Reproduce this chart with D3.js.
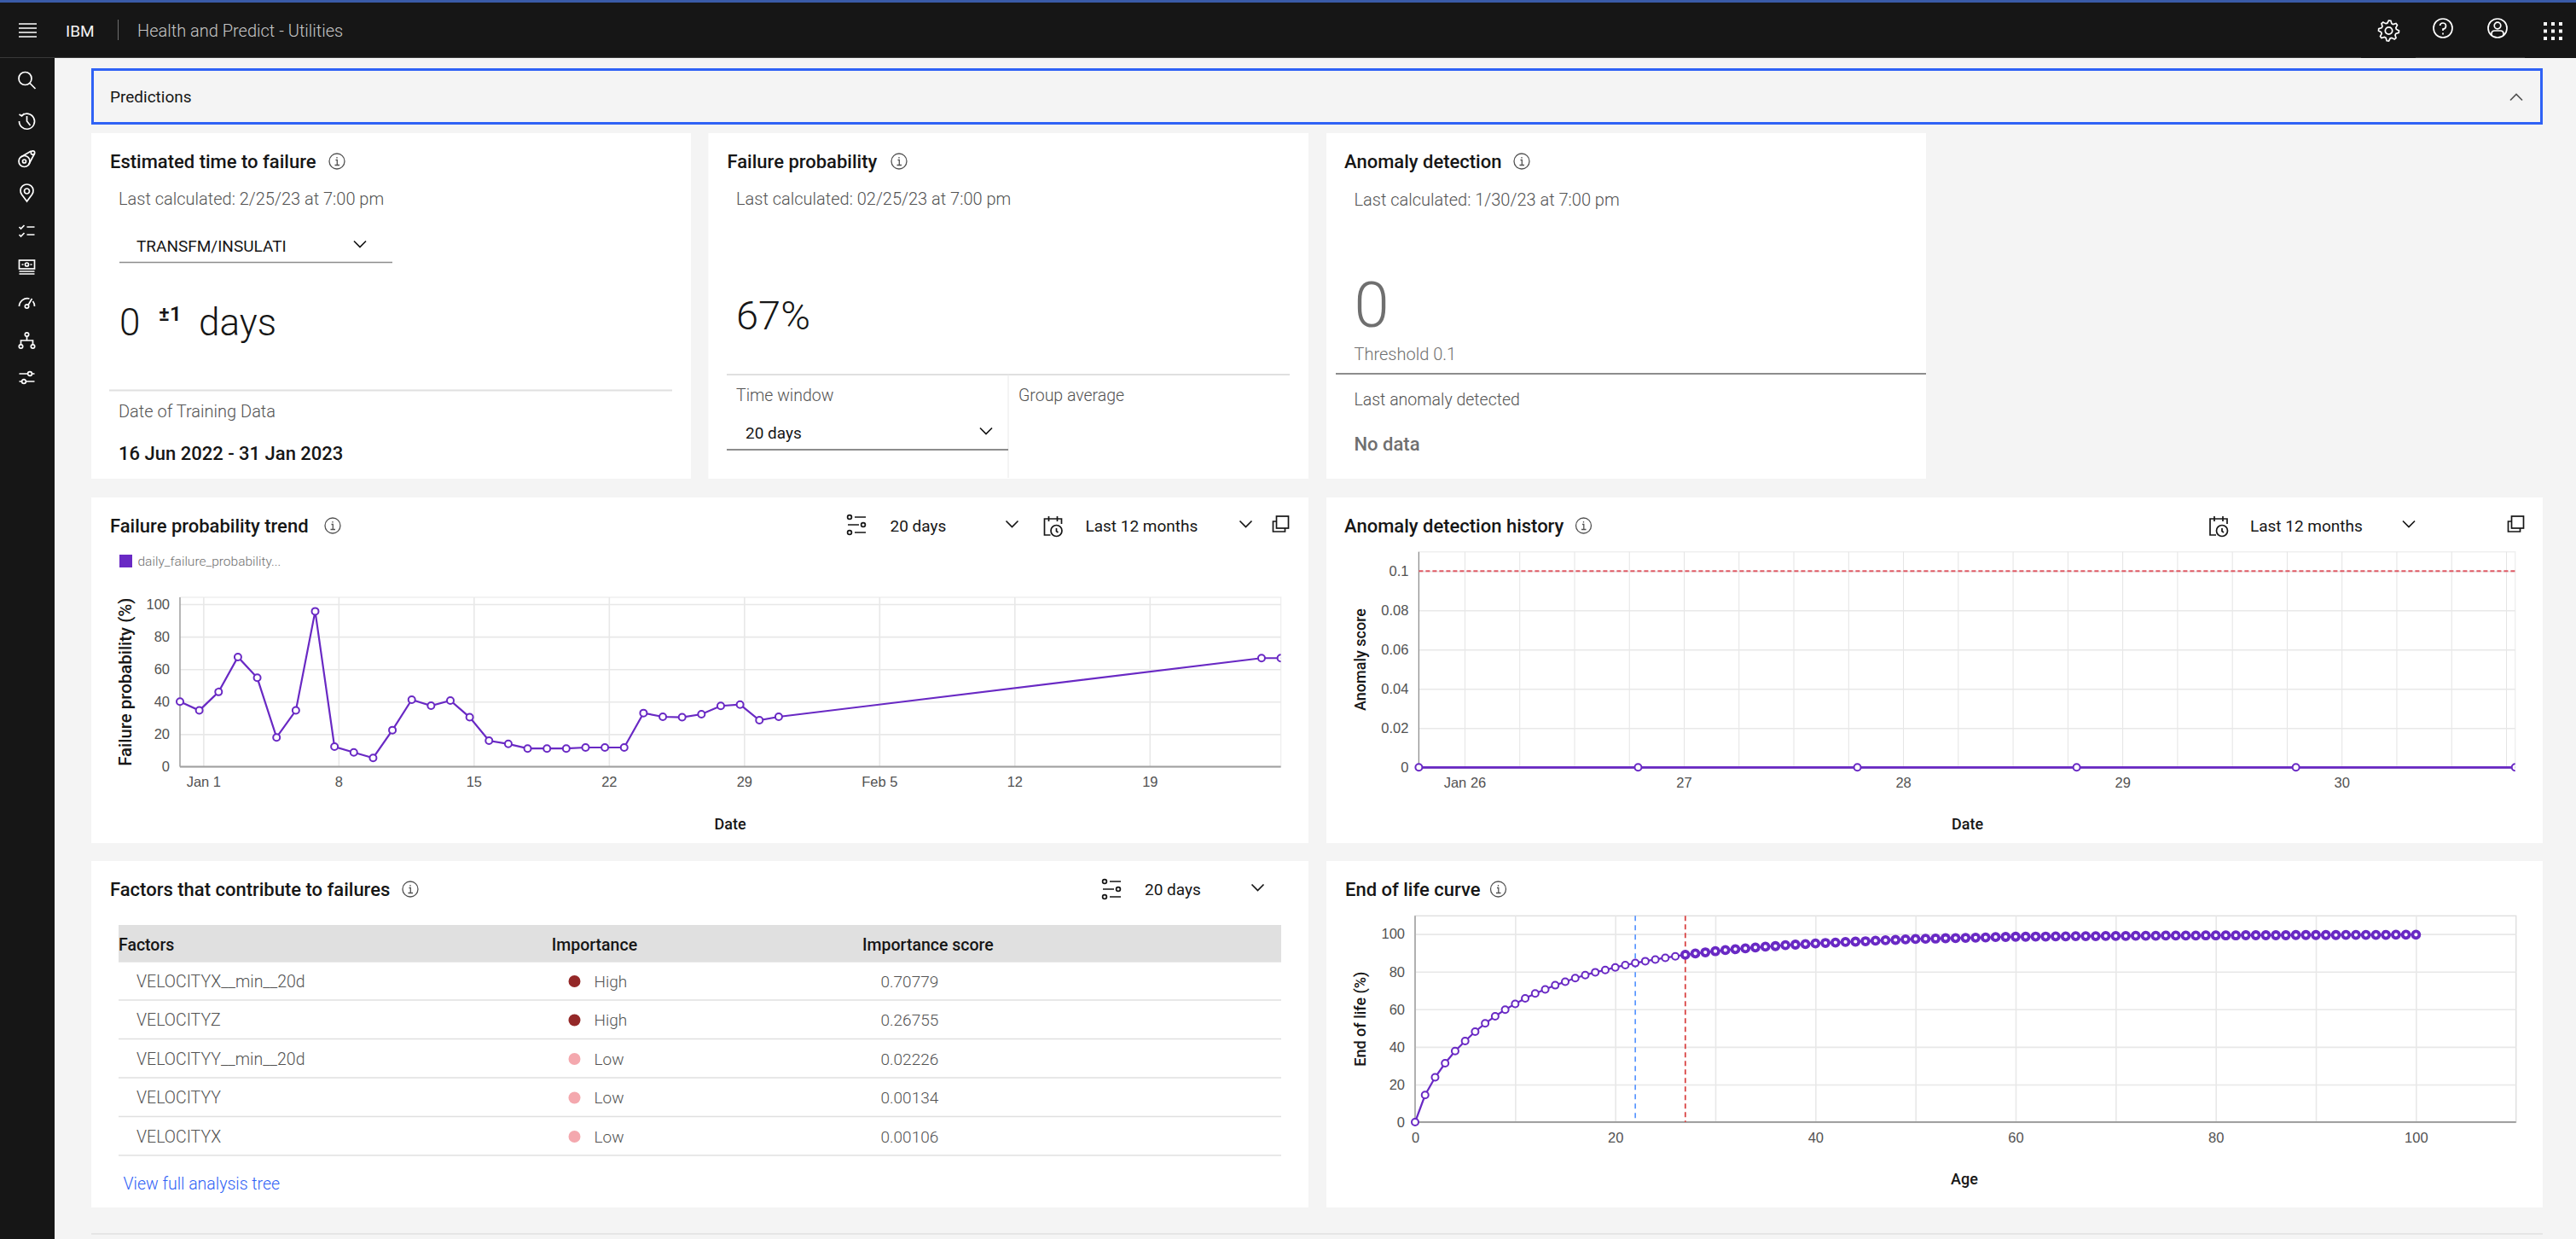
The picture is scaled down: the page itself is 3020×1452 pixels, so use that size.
<!DOCTYPE html>
<html>
<head>
<meta charset="utf-8">
<script src="https://cdn.jsdelivr.net/npm/d3@7"></script>
<style>
  html, body { margin: 0; padding: 0; background: #f4f4f4; }
  svg { display: block; font-family: Roboto, "Noto Sans", sans-serif; }
  .icon { fill: none; stroke: #fff; stroke-width: 1.7; }
  .dark { stroke: #161616; }
  .grid line { stroke: #e8e8e8; stroke-width: 1.6; }
  .grid path { display: none; }
  .grid-thin line { stroke: #e4e4e4; stroke-width: 1; }
  .tick-text text { font-size: 16.5px; font-weight: 300; fill: #525252; }
  .tick-text .domain, .tick-text line { display: none; }
</style>
</head>
<body>
<div id="chart"></div>
<script>
// failure probability trend
const failureDates = [
    "2022-12-30", "2022-12-31", "2023-01-01", "2023-01-02", "2023-01-03", "2023-01-04", "2023-01-05", "2023-01-06",
    "2023-01-07", "2023-01-08", "2023-01-09", "2023-01-10", "2023-01-11", "2023-01-12", "2023-01-13", "2023-01-14",
    "2023-01-15", "2023-01-16", "2023-01-17", "2023-01-18", "2023-01-19", "2023-01-20", "2023-01-21", "2023-01-22",
    "2023-01-23", "2023-01-24", "2023-01-25", "2023-01-26", "2023-01-27", "2023-01-28", "2023-01-29", "2023-01-30",
    "2023-02-24", "2023-02-25"
];
const failureValues = [
    40, 34.6, 46, 67.5, 54.7, 18, 34.6, 95.6,
    12.3, 8.8, 5.4, 22.5, 41.2, 37.5, 40.7, 30.4,
    16, 14, 11.2, 11.2, 11.2, 11.8, 11.8, 11.8,
    33, 30.7, 30.4, 32.3, 37.4, 38.2, 28.6, 30.7,
    66.8, 66.8
];
const failureTickDates = ["2023-01-01", "2023-01-08", "2023-01-15", "2023-01-22", "2023-01-29", "2023-02-05", "2023-02-12", "2023-02-19"];
const failureTickLabels = ["Jan 1", "8", "15", "22", "29", "Feb 5", "12", "19"];
const failureYTicks = [0, 20, 40, 60, 80, 100];

// anomaly detection history
const anomalyDates = ["2023-01-25", "2023-01-26", "2023-01-27", "2023-01-28", "2023-01-29", "2023-01-30"];
const anomalyValues = [0, 0, 0, 0, 0, 0];
const anomalyTickDates = ["2023-01-26", "2023-01-27", "2023-01-28", "2023-01-29", "2023-01-30"];
const anomalyTickLabels = ["Jan 26", "27", "28", "29", "30"];
const anomalyYTicks = [0, 0.02, 0.04, 0.06, 0.08, 0.1];
const anomalyThreshold = 0.1;

// end of life curve, one value for each age 0..100
const lifeValues = [
    0, 14.4, 23.8, 31.3, 37.8, 43.1, 48.1, 52.5, 56.3, 59.8,
    62.9, 65.8, 68.4, 70.6, 72.8, 74.7, 76.6, 78.2, 79.7, 80.9,
    82.3, 83.5, 84.6, 85.6, 86.5, 87.4, 88.2, 89, 89.7, 90.3,
    90.9, 91.5, 92, 92.4, 92.9, 93.3, 93.6, 94.1, 94.4, 94.7,
    95, 95.3, 95.5, 95.8, 96, 96.2, 96.5, 96.7, 96.9, 97.2,
    97.4, 97.5, 97.6, 97.8, 97.9, 98, 98.1, 98.2, 98.4, 98.5,
    98.6, 98.6, 98.7, 98.7, 98.8, 98.8, 98.9, 98.9, 98.9, 99,
    99, 99, 99.1, 99.1, 99.1, 99.2, 99.2, 99.2, 99.2, 99.3,
    99.3, 99.3, 99.3, 99.4, 99.4, 99.4, 99.4, 99.4, 99.5, 99.5,
    99.5, 99.5, 99.5, 99.6, 99.6, 99.6, 99.6, 99.6, 99.7, 99.7,
    99.7
];
const lifeXTicks = [0, 20, 40, 60, 80, 100];
const lifeXGrid = [10, 20, 30, 40, 50, 60, 70, 80, 90, 100];
const lifeYTicks = [0, 20, 40, 60, 80, 100];
const lifeCurrentAge = 27;
const lifeMeanAge = 22;

// factors table
const factorNames = ["VELOCITYX__min__20d", "VELOCITYZ", "VELOCITYY__min__20d", "VELOCITYY", "VELOCITYX"];
const factorLevels = ["High", "High", "Low", "Low", "Low"];
const factorScores = ["0.70779", "0.26755", "0.02226", "0.00134", "0.00106"];

const PURPLE = "#6929c4";
const BLUE = "#2f62f5";
const parseDay = d3.timeParse("%Y-%m-%d");
const atEvening = s => d3.timeHour.offset(parseDay(s), 19);

const svg = d3.select("#chart").append("svg").attr("width", 3020).attr("height", 1452);

function text(parent, x, y, str, size, opts = {}) {
    return parent.append("text")
        .attr("x", x).attr("y", y).attr("dy", "0.35em")
        .attr("font-size", size)
        .attr("font-weight", opts.weight || 400)
        .attr("fill", opts.fill || "#161616")
        .attr("text-anchor", opts.anchor || "start")
        .text(str);
}

function rect(parent, x0, y0, x1, y1, fill) {
    return parent.append("rect").attr("x", x0).attr("y", y0).attr("width", x1 - x0).attr("height", y1 - y0).attr("fill", fill);
}

function hline(parent, x0, x1, y, color, width) {
    return parent.append("line").attr("x1", x0).attr("x2", x1).attr("y1", y).attr("y2", y).attr("stroke", color).attr("stroke-width", width);
}

function vline(parent, x, y0, y1, color, width) {
    return parent.append("line").attr("x1", x).attr("x2", x).attr("y1", y0).attr("y2", y1).attr("stroke", color).attr("stroke-width", width);
}

const gearPath = d3.lineRadial().curve(d3.curveLinearClosed)(
    d3.range(32).map(i => [i * Math.PI / 16, [12, 12, 9, 9][i % 4]])
);

// small line icons, drawn around 0,0
const ICONS = {
    search: g => {
        g.append("circle").attr("cx", -2).attr("cy", -2).attr("r", 7.5);
        g.append("path").attr("d", "M3.5 3.5 L10 10");
    },
    history: g => {
        g.append("path").attr("d", "M-6 -6.5 A9 9 0 1 1 -9 0");
        g.append("path").attr("d", "M-9 -8 L-6 -6 L-3 -9 M0 -6 V0 L4 5");
    },
    belt: g => {
        g.append("circle").attr("cx", -3).attr("cy", 3).attr("r", 6.5);
        g.append("circle").attr("cx", -3).attr("cy", 3).attr("r", 2);
        g.append("circle").attr("cx", 7).attr("cy", -7).attr("r", 2.2);
        g.append("path").attr("d", "M-7 -2 L5 -9 M2 7 L9 -6");
    },
    pin: g => {
        g.append("path").attr("d", "M0 9 L-6 1 A7.5 7.5 0 1 1 6 1 Z");
        g.append("circle").attr("cx", 0).attr("cy", -3).attr("r", 3);
    },
    checks: g => {
        g.append("path").attr("d", "M-9 -5 L-7 -3 L-3 -7 M0 -5 H9 M-9 4 L-7 6 L-3 2 M0 4 H9");
    },
    money: g => {
        g.append("rect").attr("x", -9).attr("y", -8).attr("width", 18).attr("height", 10);
        g.append("circle").attr("cx", 0).attr("cy", -3).attr("r", 2);
        g.append("path").attr("d", "M-6 -3 H-4 M4 -3 H6 M-9 5 H9 M-9 8 H9");
    },
    gauge: g => {
        g.append("path").attr("d", "M-9 4 A9.5 9.5 0 0 1 3 -5 M7 -2 A9.5 9.5 0 0 1 9 4");
        g.append("circle").attr("cx", 0).attr("cy", 4).attr("r", 2.2);
        g.append("path").attr("d", "M1.5 2.5 L6 -5");
    },
    tree: g => {
        g.append("circle").attr("cx", 0).attr("cy", -7).attr("r", 2.2);
        g.append("circle").attr("cx", -7).attr("cy", 7).attr("r", 2.2);
        g.append("circle").attr("cx", 7).attr("cy", 7).attr("r", 2.2);
        g.append("path").attr("d", "M0 -5 V0 M-7 5 V0 H7 V5");
    },
    sliders: g => {
        g.append("path").attr("d", "M-9 -4 H1 M6 -4 H9 M-9 5 H-6 M-1 5 H9");
        g.append("circle").attr("cx", 3.5).attr("cy", -4).attr("r", 2.4);
        g.append("circle").attr("cx", -3.5).attr("cy", 5).attr("r", 2.4);
    },
    gear: g => {
        g.append("path").attr("d", gearPath);
        g.append("circle").attr("r", 4.2);
    },
    help: g => {
        g.append("circle").attr("r", 11);
        g.append("path").attr("d", "M-3.5 -3 A3.5 3.5 0 1 1 0 1 V3 M0 5.5 V7.5");
    },
    user: g => {
        g.append("circle").attr("r", 11);
        g.append("circle").attr("cy", -3).attr("r", 3.8);
        g.append("path").attr("d", "M-7 8 V6 A3.5 3.5 0 0 1 -3.5 3 H3.5 A3.5 3.5 0 0 1 7 6 V8");
    },
    settings3: g => {
        g.append("circle").attr("cx", -9).attr("cy", -9).attr("r", 2.4);
        g.append("circle").attr("cx", 7).attr("cy", 0).attr("r", 2.4);
        g.append("circle").attr("cx", -9).attr("cy", 9).attr("r", 2.4);
        g.append("path").attr("d", "M-3 -9 H10 M-11 0 H2 M-3 9 H10");
    },
    calendar: g => {
        g.append("path").attr("d", "M-3 11 H-10 V-8 H10 V-2 M-5 -11 V-5 M5 -11 V-5");
        g.append("circle").attr("cx", 4).attr("cy", 6).attr("r", 6.5);
        g.append("path").attr("d", "M4 3 V6.5 L6 8");
    },
    copy: g => {
        g.append("rect").attr("x", -5).attr("y", -9).attr("width", 14).attr("height", 14);
        g.append("path").attr("d", "M-5 -3 H-9 V9 H5 V5");
    },
    chevronDown: g => g.append("path").attr("d", "M-7 -3.5 L0 3.5 L7 -3.5"),
    chevronUp: g => g.append("path").attr("d", "M-7 3.5 L0 -3.5 L7 3.5")
};

function icon(name, x, y, cls = "") {
    const g = svg.append("g").attr("class", "icon " + cls).attr("transform", `translate(${x},${y})`);
    ICONS[name](g);
    return g;
}

function infoIcon(x, y) {
    const g = svg.append("g").attr("transform", `translate(${x},${y})`);
    g.append("circle").attr("r", 9).attr("fill", "none").attr("stroke", "#525252").attr("stroke-width", 1.3);
    g.append("path").attr("d", "M-1.5 -1.5 H0.3 V4.5 M-2.5 4.5 H3 M0 -5 V-3.5").attr("fill", "none").attr("stroke", "#525252").attr("stroke-width", 1.3);
}

function cardTitle(x, y, str, infoX) {
    text(svg, x, y, str, 22, { weight: 500 });
    infoIcon(infoX, y);
}

// page frame
rect(svg, 0, 0, 3020, 1452, "#f4f4f4");
rect(svg, 0, 0, 3020, 68, "#161616");
rect(svg, 0, 0, 3020, 3, "#3a5ba8");
rect(svg, 0, 68, 64, 1452, "#161616");
hline(svg, 0, 2768, 67.5, "#393939", 1);
hline(svg, 2832, 2960, 67.5, "#393939", 1);

// header
svg.append("path").attr("class", "icon").attr("d", "M22 28 H43 M22 33 H43 M22 38 H43 M22 43 H43");
text(svg, 77, 36, "IBM", 19, { fill: "#f4f4f4" });
vline(svg, 138.5, 23, 47, "#6f6f6f", 1);
text(svg, 161, 36, "Health and Predict - Utilities", 20, { fill: "#c6c6c6", weight: 300 });
icon("gear", 2800.5, 36);
icon("help", 2864, 33);
icon("user", 2928, 33);
[2984, 2993, 3002].forEach(x => [28, 36.5, 45].forEach(y => rect(svg, x - 2, y - 2, x + 2, y + 2, "#fff")));

// side bar
[["search", 94], ["history", 142], ["belt", 186], ["pin", 227], ["checks", 271], ["money", 313], ["gauge", 355], ["tree", 399], ["sliders", 442]]
    .forEach(([name, y]) => icon(name, 31.5, y));

// predictions band
svg.append("rect").attr("x", 108.5).attr("y", 81.5).attr("width", 2871).attr("height", 63)
    .attr("fill", "#f4f4f4").attr("stroke", BLUE).attr("stroke-width", 3);
text(svg, 129, 113, "Predictions", 19);
svg.append("g").attr("class", "icon").attr("transform", "translate(2950,114)")
    .call(g => { ICONS.chevronUp(g); g.selectAll("path").style("stroke", "#525252"); });

// cards
[[107, 156, 810, 561], [830.5, 156, 1534, 561], [1555, 156, 2258, 561],
 [107, 583, 1534, 988], [1555, 583, 2981, 988],
 [107, 1009, 1534, 1415], [1555, 1009, 2981, 1415]]
    .forEach(c => rect(svg, c[0], c[1], c[2], c[3], "#fff"));
hline(svg, 107, 2981, 1446, "#e0e0e0", 1.5);

const MUTED = { fill: "#525252", weight: 300 };

// estimated time to failure
cardTitle(129, 189, "Estimated time to failure", 395);
text(svg, 139, 233, "Last calculated: 2/25/23 at 7:00 pm", 20, MUTED);
text(svg, 160, 288, "TRANSFM/INSULATI", 19);
icon("chevronDown", 422, 286, "dark");
hline(svg, 140, 460, 307.5, "#8d8d8d", 1.5);
text(svg, 140, 378, "0", 44, { weight: 300 });
text(svg, 186, 368, "±1", 24, { weight: 600 });
text(svg, 233, 378, "days", 44, { weight: 300 });
hline(svg, 128, 788, 457.5, "#e0e0e0", 2);
text(svg, 139, 482, "Date of Training Data", 20, MUTED);
text(svg, 139, 531, "16 Jun 2022 - 31 Jan 2023", 22, { weight: 500 });

// failure probability
cardTitle(852.5, 189, "Failure probability", 1054);
text(svg, 863, 233, "Last calculated: 02/25/23 at 7:00 pm", 20, MUTED);
text(svg, 863, 370, "67%", 47, { weight: 300 });
hline(svg, 852, 1512, 439, "#e0e0e0", 2);
vline(svg, 1182, 439, 560, "#e8e8e8", 1);
text(svg, 863, 463, "Time window", 19.5, MUTED);
text(svg, 1194, 463, "Group average", 19.5, MUTED);
text(svg, 874, 507, "20 days", 19);
icon("chevronDown", 1156, 505, "dark");
hline(svg, 852, 1182, 527, "#8d8d8d", 2);

// anomaly detection
cardTitle(1576, 189, "Anomaly detection", 1784);
text(svg, 1587.5, 234, "Last calculated: 1/30/23 at 7:00 pm", 20, MUTED);
text(svg, 1587.5, 357, "0", 74, { fill: "#6f6f6f", weight: 300 });
text(svg, 1587.5, 415, "Threshold 0.1", 20, { fill: "#6f6f6f", weight: 300 });
hline(svg, 1566, 2258, 438, "#8d8d8d", 2);
text(svg, 1587.5, 468, "Last anomaly detected", 19.5, MUTED);
text(svg, 1587.5, 520, "No data", 22, { fill: "#6f6f6f", weight: 500 });

// draws the frame, grid, labels and axes titles shared by the three charts
function chartFrame(box, x, y, opts) {
    const g = svg.append("g");
    g.append("rect").attr("x", box.left).attr("y", box.top)
        .attr("width", box.right - box.left).attr("height", box.bottom - box.top)
        .attr("fill", "none").attr("stroke", opts.frame || "#efefef").attr("stroke-width", 1.5);

    g.append("g").attr("class", "grid " + (opts.thinX ? "grid-thin" : "")).attr("transform", `translate(0,${box.bottom})`)
        .call(d3.axisBottom(x).tickValues(opts.gridX).tickSize(box.top - box.bottom).tickFormat(""));
    g.append("g").attr("class", "grid").attr("transform", `translate(${box.left},0)`)
        .call(d3.axisLeft(y).tickValues(opts.yTicks).tickSize(box.left - box.right).tickFormat(""));

    const xAxis = g.append("g").attr("class", "tick-text").attr("transform", `translate(0,${box.bottom + 18})`)
        .call(d3.axisBottom(x).tickValues(opts.xTicks).tickSize(0).tickPadding(0).tickFormat(opts.xFormat));
    xAxis.selectAll("text").attr("dy", "0.35em").attr("y", 0)
        .filter(d => opts.strong && opts.strong(d)).style("font-weight", 500);
    g.append("g").attr("class", "tick-text").attr("transform", `translate(${box.left - 12},0)`)
        .call(d3.axisLeft(y).tickValues(opts.yTicks).tickSize(0).tickPadding(0).tickFormat(d => d));

    vline(g, box.left, box.top, box.bottom, "#8d8d8d", 1.2);
    hline(g, box.left, box.right, box.bottom, "#a0a0a0", 2.2);

    text(g, opts.xTitleX, opts.xTitleY, opts.xTitle, 18, { weight: 500, anchor: "middle" });
    text(g, 0, 0, opts.yTitle, opts.yTitleSize || 18, { weight: 500, anchor: "middle" })
        .attr("transform", `translate(${opts.yTitleX},${(box.top + box.bottom) / 2}) rotate(-90)`);
}

function clipFor(id, box) {
    svg.append("clipPath").attr("id", id).append("rect")
        .attr("x", box.left - 10).attr("y", box.top).attr("width", box.right - box.left + 10).attr("height", box.bottom - box.top + 10);
}

function drawSeries(parent, points, x, y, lineWidth) {
    parent.append("path").datum(points)
        .attr("fill", "none").attr("stroke", PURPLE).attr("stroke-width", lineWidth)
        .attr("d", d3.line().x(d => x(d.x)).y(d => y(d.y)));
    return parent.selectAll("circle").data(points).join("circle")
        .attr("cx", d => x(d.x)).attr("cy", d => y(d.y)).attr("r", 4)
        .attr("fill", "#fff").attr("stroke", PURPLE).attr("stroke-width", 2);
}

// failure probability trend
cardTitle(129, 616, "Failure probability trend", 390);
icon("settings3", 1005, 615, "dark");
text(svg, 1043.5, 616, "20 days", 19);
icon("chevronDown", 1186.5, 614, "dark");
icon("calendar", 1234.5, 616, "dark");
text(svg, 1272.5, 616, "Last 12 months", 19);
icon("chevronDown", 1460.5, 614, "dark");
icon("copy", 1501.5, 614, "dark");
rect(svg, 140, 650, 155, 665, PURPLE);
text(svg, 161.5, 658, "daily_failure_probability...", 15.5, { fill: "#6f6f6f", weight: 300 });

const failureBox = { left: 211, right: 1501.6, top: 700, bottom: 898.5 };
const failureX = d3.scaleTime()
    .domain([atEvening(failureDates[0]), atEvening(failureDates[failureDates.length - 1])])
    .range([failureBox.left, failureBox.right]);
const failureY = d3.scaleLinear().domain([0, 104.2]).range([failureBox.bottom, failureBox.top]);
const failureTickMap = new Map(failureTickDates.map((d, i) => [+parseDay(d), failureTickLabels[i]]));

chartFrame(failureBox, failureX, failureY, {
    gridX: failureTickDates.map(parseDay),
    xTicks: failureTickDates.map(parseDay),
    xFormat: d => failureTickMap.get(+d),
    strong: d => failureTickMap.get(+d).length > 2,
    yTicks: failureYTicks,
    xTitle: "Date", xTitleX: 856, xTitleY: 966,
    yTitle: "Failure probability (%)", yTitleX: 147, yTitleSize: 20.4
});
clipFor("clip-failure", failureBox);
drawSeries(svg.append("g").attr("clip-path", "url(#clip-failure)"),
    failureDates.map((d, i) => ({ x: atEvening(d), y: failureValues[i] })), failureX, failureY, 2.2);

// anomaly detection history
cardTitle(1576, 616, "Anomaly detection history", 1856.5);
icon("calendar", 2601, 616, "dark");
text(svg, 2638, 616, "Last 12 months", 19);
icon("chevronDown", 2824, 614, "dark");
icon("copy", 2949.5, 614, "dark");

const anomalyBox = { left: 1663.4, right: 2948.7, top: 646.7, bottom: 899.3 };
const anomalyX = d3.scaleTime()
    .domain([atEvening(anomalyDates[0]), atEvening(anomalyDates[anomalyDates.length - 1])])
    .range([anomalyBox.left, anomalyBox.right]);
const anomalyY = d3.scaleLinear().domain([0, 0.1098]).range([anomalyBox.bottom, anomalyBox.top]);
const anomalyTickMap = new Map(anomalyTickDates.map((d, i) => [+parseDay(d), anomalyTickLabels[i]]));

chartFrame(anomalyBox, anomalyX, anomalyY, {
    gridX: d3.timeHour.every(6).range(anomalyX.domain()[0], anomalyX.domain()[1]),
    thinX: true,
    xTicks: anomalyTickDates.map(parseDay),
    xFormat: d => anomalyTickMap.get(+d),
    strong: d => anomalyTickMap.get(+d).length > 2,
    yTicks: anomalyYTicks,
    xTitle: "Date", xTitleX: 2306.5, xTitleY: 966,
    yTitle: "Anomaly score", yTitleX: 1595
});
clipFor("clip-anomaly", anomalyBox);

hline(svg, anomalyBox.left, anomalyBox.right, anomalyY(anomalyThreshold), "#e05a64", 2).attr("stroke-dasharray", "5 3");
drawSeries(svg.append("g").attr("clip-path", "url(#clip-anomaly)"),
    anomalyDates.map((d, i) => ({ x: atEvening(d), y: anomalyValues[i] })), anomalyX, anomalyY, 2.8);

// factors table
cardTitle(129, 1042, "Factors that contribute to failures", 481);
icon("settings3", 1304, 1042, "dark");
text(svg, 1342, 1042, "20 days", 19);
icon("chevronDown", 1474.5, 1040, "dark");

const colX = [139, 646.7, 1011];
rect(svg, 139, 1084, 1502, 1127.7, "#e0e0e0");
["Factors", "Importance", "Importance score"].forEach((h, i) => text(svg, colX[i], 1107, h, 19.5, { weight: 500 }));

const rowY = d3.scalePoint().domain(d3.range(factorNames.length)).range([1150, 1332]);
const levelColor = d3.scaleOrdinal().domain(["High", "Low"]).range(["#942828", "#f4a8ae"]);
factorNames.forEach((name, i) => {
    const y = rowY(i);
    text(svg, 160, y, name, 19.5, MUTED);
    svg.append("circle").attr("cx", 673.5).attr("cy", y).attr("r", 7).attr("fill", levelColor(factorLevels[i]));
    text(svg, 696.5, y, factorLevels[i], 19, MUTED);
    text(svg, 1032.5, y, factorScores[i], 19, MUTED);
    hline(svg, 139, 1502, y + 22, "#e0e0e0", 1.6);
});
text(svg, 144.5, 1387, "View full analysis tree", 19.5, { fill: BLUE, weight: 300 });

// end of life curve
cardTitle(1577, 1042, "End of life curve", 1756.5);

const lifeBox = { left: 1659, right: 2949.7, top: 1073.3, bottom: 1315 };
const lifeX = d3.scaleLinear().domain([0, 110]).range([lifeBox.left, lifeBox.right]);
const lifeY = d3.scaleLinear().domain([0, 109.7]).range([lifeBox.bottom, lifeBox.top]);

chartFrame(lifeBox, lifeX, lifeY, {
    frame: "#e0e0e0",
    gridX: lifeXGrid,
    xTicks: lifeXTicks,
    xFormat: d => d,
    yTicks: lifeYTicks,
    xTitle: "Age", xTitleX: 2303, xTitleY: 1382,
    yTitle: "End of life (%)", yTitleX: 1594.5
});

vline(svg, lifeX(lifeMeanAge), lifeBox.top, lifeBox.bottom, "#4589ff", 1.5).attr("stroke-dasharray", "6 5");
vline(svg, lifeX(lifeCurrentAge), lifeBox.top, lifeBox.bottom, "#da4545", 1.8).attr("stroke-dasharray", "6 4");

drawSeries(svg.append("g"), lifeValues.map((v, i) => ({ x: i, y: v })), lifeX, lifeY, 2.2)
    .filter(d => d.x >= lifeCurrentAge)
    .attr("stroke-width", 3.8);
</script>
</body>
</html>
